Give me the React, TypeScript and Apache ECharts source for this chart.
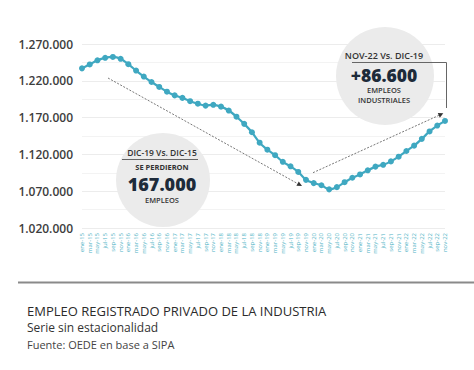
import React, { useEffect, useRef } from "react";
import * as echarts from "echarts";

const categories = [
  "ene-15", "mar-15", "may-15", "jul-15", "sep-15", "nov-15",
  "ene-16", "mar-16", "may-16", "jul-16", "sep-16", "nov-16",
  "ene-17", "mar-17", "may-17", "jul-17", "sep-17", "nov-17",
  "ene-18", "mar-18", "may-18", "jul-18", "sep-18", "nov-18",
  "ene-19", "mar-19", "may-19", "jul-19", "sep-19", "nov-19",
  "ene-20", "mar-20", "may-20", "jul-20", "sep-20", "nov-20",
  "ene-21", "mar-21", "may-21", "jul-21", "sep-21", "nov-21",
  "ene-22", "mar-22", "may-22", "jul-22", "sep-22", "nov-22",
];

const employment = [
  1236900, 1242200, 1247800, 1251200, 1252400, 1249900,
  1242600, 1233900, 1225800, 1218400, 1211700, 1205200,
  1200200, 1196800, 1192300, 1188900, 1186300, 1187400,
  1184900, 1179600, 1171200, 1161500, 1150100, 1135900,
  1126400, 1118900, 1109900, 1103800, 1096200, 1085400,
  1081000, 1078100, 1072500, 1075500, 1082200, 1088300,
  1092800, 1098400, 1103400, 1105900, 1110500, 1116900,
  1124600, 1131900, 1141100, 1151200, 1159200, 1165500,
];

const yMin = 1020000;
const yMax = 1270000;
const yStep = 50000;

const title = "EMPLEO REGISTRADO PRIVADO DE LA INDUSTRIA";
const subtitle = "Serie sin estacionalidad";
const source = "Fuente: OEDE en base a SIPA";

const leftNote = ["DIC-19 Vs. DIC-15", "SE PERDIERON", "167.000", "EMPLEOS"];
const rightNote = ["NOV-22 Vs. DIC-19", "+86.600", "EMPLEOS", "INDUSTRIALES"];

const fmt = (v: number) => String(v).replace(/\B(?=(\d{3})+(?!\d))/g, ".");

const FONT = "'Open Sans', sans-serif";
const LINE = "#3fa8c1";

function txt(x: number, y: number, text: string, size: number, weight: any, fill: string, align = "center") {
  return {
    type: "text",
    x,
    y,
    z: 100,
    style: {
      text,
      fontSize: size,
      fontWeight: weight,
      fontFamily: FONT,
      fill,
      textAlign: align,
      textVerticalAlign: "middle",
    },
  };
}

export default function App() {
  const ref = useRef<HTMLDivElement>(null);
  useEffect(() => {
    if (!ref.current) return;
    const chart = echarts.init(ref.current, undefined, { renderer: "svg" });
    const option: any = {
      animation: false,
      backgroundColor: "#ffffff",
      grid: { left: 82, right: 29, top: 44, bottom: 142, containLabel: false },
      xAxis: {
        type: "category",
        data: categories,
        boundaryGap: false,
        axisLine: { show: false },
        axisTick: { show: false },
        axisLabel: {
          rotate: 90,
          interval: 0,
          fontSize: 6,
          color: "#4fb3c5",
          fontFamily: FONT,
          margin: 5,
        },
        splitLine: { show: false },
      },
      yAxis: {
        type: "value",
        min: yMin,
        max: yMax,
        interval: yStep,
        axisLine: { show: false },
        axisTick: { show: false },
        axisLabel: {
          formatter: (v: number) => fmt(v),
          fontSize: 12,
          fontWeight: 600,
          color: "#3d3d3d",
          fontFamily: FONT,
          margin: 9,
        },
        splitLine: { show: true, lineStyle: { color: "#ececec", width: 1 } },
        minorTick: { show: false, splitNumber: 2 },
        minorSplitLine: { show: true, lineStyle: { color: "#f3f3f3", width: 1 } },
      },
      series: [
        {
          type: "line",
          data: employment,
          smooth: 0.2,
          symbol: "circle",
          symbolSize: 6,
          showAllSymbol: true,
          lineStyle: { color: LINE, width: 2.2 },
          itemStyle: { color: LINE },
          z: 5,
        },
      ],
      graphic: [
        // left annotation
        { type: "circle", z: 10, shape: { cx: 163, cy: 180, r: 47 }, style: { fill: "#ebebeb" } },
        txt(162, 152, leftNote[0], 8.5, 600, "#333"),
        { type: "line", z: 100, shape: { x1: 122, y1: 159.5, x2: 198, y2: 159.5 }, style: { stroke: "#666", lineWidth: 1 } },
        txt(162, 167, leftNote[1], 7.5, 700, "#333"),
        txt(162, 183.5, leftNote[2], 18, 800, "#1d2b3a"),
        txt(162, 200, leftNote[3], 7.5, 600, "#333"),
        // right annotation
        { type: "circle", z: 10, shape: { cx: 385, cy: 76, r: 49 }, style: { fill: "#ebebeb" } },
        txt(384, 55, rightNote[0], 9, 600, "#333"),
        { type: "polyline", z: 100, shape: { points: [[352, 62.5], [446.5, 62.5], [446.5, 108]] }, style: { stroke: "#666", lineWidth: 1, fill: null } },
        txt(384, 74.5, rightNote[1], 17.5, 800, "#1d2b3a"),
        txt(384, 90, rightNote[2], 7.5, 600, "#333"),
        txt(384, 100, rightNote[3], 7.5, 600, "#333"),
        // arrows
        { type: "line", z: 20, shape: { x1: 108, y1: 78, x2: 297.6, y2: 183.6 }, style: { stroke: "#555", lineWidth: 0.8, lineDash: [2, 1.5] } },
        { type: "polygon", z: 20, shape: { points: [[302, 186], [296.4, 185.8], [298.8, 181.4]] }, style: { fill: "#333" } },
        { type: "line", z: 20, shape: { x1: 313, y1: 172.7, x2: 438.8, y2: 115.4 }, style: { stroke: "#555", lineWidth: 0.8, lineDash: [2, 1.5] } },
        { type: "polygon", z: 20, shape: { points: [[443.3, 113.3], [439.8, 117.7], [437.8, 113.1]] }, style: { fill: "#333" } },
        // footer
        { type: "line", z: 100, shape: { x1: 18, y1: 282.5, x2: 474, y2: 282.5 }, style: { stroke: "#8a8a8a", lineWidth: 2 } },
        txt(27, 310.5, title, 13, 500, "#2b2b2b", "left"),
        txt(27, 327.5, subtitle, 12, 400, "#333", "left"),
        txt(27, 344, source, 11, 400, "#444", "left"),
      ],
    };
    chart.setOption(option);
    return () => chart.dispose();
  }, []);
  return (
    <div
      ref={ref}
      style={{ position: "fixed", left: 0, top: 0, width: 474, height: 370 }}
    />
  );
}
